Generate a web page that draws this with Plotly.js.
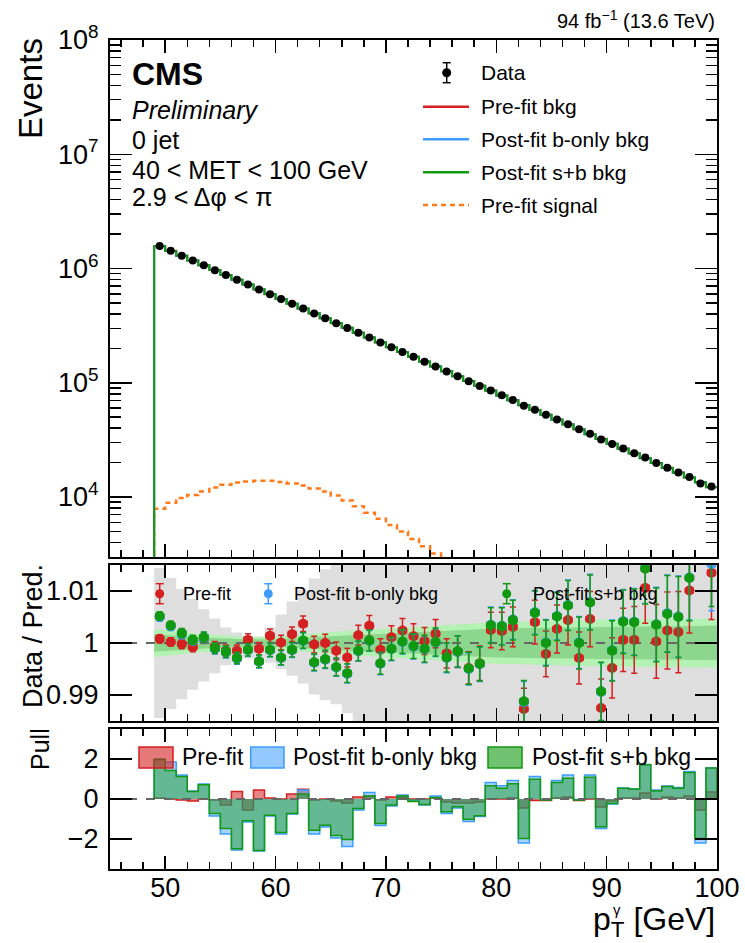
<!DOCTYPE html>
<html><head><meta charset="utf-8">
<script src="https://cdn.plot.ly/plotly-3.0.1.min.js"></script>
<style>html,body{margin:0;padding:0;background:#fff}#chart{width:745px;height:943px}</style>
</head><body><div id="chart"></div>
<script>
// ---------------- data ----------------
const binLo = [49,50,51,52,53,54,55,56,57,58,59,60,61,62,63,64,65,66,67,68,69,70,71,72,73,74,75,76,77,78,79,80,81,82,83,84,85,86,87,88,89,90,91,92,93,94,95,96,97,98,99];
const binHi = 100;

const bkgPre = [1574000,1428300,1296000,1176000,1067100,968300,878600,797300,723500,656500,595700,540500,490500,445100,403900,366500,332500,301700,273800,248500,225500,204600,185600,168500,152900,138700,125900,114200,103600,94050,85340,77440,70270,63760,57860,52500,47640,43230,39230,35590,32300,29310,26590,24130,21900,19870,18030,16360,14840,13470,12220];

const signalPre = [7900,8900,9800,10400,11200,12100,12800,13400,13700,13850,13850,13550,13150,12600,11850,11200,10300,9300,8300,7300,6450,5700,5000,4300,3700,3200,2700,2250,1850,1500,1200,950,750,590,460,360,280,220,170,130,100,78,60,46,35,27,21,16,12,9,7];

const ratioPre = [1.0008,1.0002,0.9998,0.9992,1.0009,0.9993,0.9985,0.9985,1.0006,0.9989,1.0014,1.0001,1.0017,1.0037,0.9997,1.0000,0.9985,0.9972,1.0015,1.0033,0.9987,1.0011,1.0024,1.0013,1.0004,1.0018,0.9980,0.9983,0.9952,0.9961,1.0025,1.0023,1.0031,0.9873,1.0040,0.9979,1.0027,1.0044,0.9971,1.0046,0.9875,0.9952,1.0006,1.0006,1.0106,1.0003,1.0024,1.0021,1.0101,0.9750,1.0135];

const ratioBonly = [1.0050,1.0032,1.0017,1.0005,1.0010,0.9989,0.9982,0.9970,0.9986,0.9964,0.9986,0.9971,0.9986,1.0004,0.9962,0.9968,0.9953,0.9941,0.9984,1.0004,0.9960,0.9988,1.0002,0.9993,0.9988,1.0001,0.9971,0.9983,0.9950,0.9959,1.0035,1.0033,1.0045,0.9886,1.0059,1.0001,1.0052,1.0073,1.0001,1.0079,0.9906,0.9986,1.0042,1.0041,1.0144,1.0036,1.0057,1.0051,1.0126,0.9759,1.0152];

const ratioSB = [1.0052,1.0034,1.0019,1.0006,1.0011,0.9990,0.9983,0.9971,0.9987,0.9965,0.9987,0.9972,0.9987,1.0005,0.9963,0.9969,0.9954,0.9942,0.9985,1.0005,0.9961,0.9989,1.0003,0.9994,0.9989,1.0002,0.9972,0.9984,0.9951,0.9960,1.0034,1.0032,1.0044,0.9888,1.0058,1.0000,1.0051,1.0072,1.0000,1.0078,0.9907,0.9985,1.0041,1.0040,1.0143,1.0035,1.0056,1.0050,1.0125,0.9760,1.0160];

const ratioErr = [0.0008,0.0008,0.0009,0.0009,0.0010,0.0010,0.0011,0.0011,0.0012,0.0012,0.0013,0.0014,0.0014,0.0015,0.0016,0.0017,0.0017,0.0018,0.0019,0.0020,0.0021,0.0022,0.0023,0.0024,0.0026,0.0027,0.0028,0.0030,0.0031,0.0033,0.0034,0.0036,0.0038,0.0040,0.0042,0.0044,0.0046,0.0048,0.0050,0.0053,0.0056,0.0058,0.0061,0.0064,0.0068,0.0071,0.0074,0.0078,0.0082,0.0086,0.0090];

// grey band (pre-fit uncertainty), half widths above / below 1 per bin
const bandUp = [0.0144,0.0125,0.0104,0.0085,0.0065,0.0047,0.0030,0.0020,0.0014,0.0012,0.0030,0.0055,0.0080,0.0102,0.0124,0.0142,0.02,0.02,0.02,0.02,0.02,0.02,0.02,0.02,0.02,0.02,0.02,0.02,0.02,0.02,0.02,0.02,0.02,0.02,0.02,0.02,0.02,0.02,0.02,0.02,0.02,0.02,0.02,0.02,0.02,0.02,0.02,0.02,0.02,0.02,0.02];
const bandDn = [0.0144,0.0127,0.0108,0.0090,0.0074,0.0058,0.0043,0.0033,0.0030,0.0030,0.0038,0.0050,0.0063,0.0078,0.0099,0.0110,0.0118,0.0135,0.02,0.02,0.02,0.02,0.02,0.02,0.02,0.02,0.02,0.02,0.02,0.02,0.02,0.02,0.02,0.02,0.02,0.02,0.02,0.02,0.02,0.02,0.02,0.02,0.02,0.02,0.02,0.02,0.02,0.02,0.02,0.02,0.02];

// green post-fit uncertainty bands
const fitBandX = [49,53,57,60,65,70,75,80,90,100];
const fitBand2 = [0.0027,0.0018,0.0012,0.0012,0.0021,0.0027,0.0034,0.0040,0.0045,0.0047];
const fitBand1 = [0.0017,0.0011,0.0007,0.0007,0.0013,0.0018,0.0023,0.0028,0.0031,0.0033];

const pullPre = [0.05,0.00,-0.05,-0.10,0.00,-0.05,-0.30,0.37,-0.55,0.45,0.05,0.00,0.25,0.49,-0.05,0.00,-0.10,-0.20,0.10,0.15,-0.05,0.10,0.10,0.00,0.00,0.05,-0.15,-0.20,-0.20,-0.15,0.00,0.00,0.05,-0.45,-0.08,-0.08,0.05,0.10,-0.08,0.00,-0.40,-0.10,0.05,0.05,0.30,0.00,0.10,0.05,0.15,-0.55,0.35];
const pullBonly = [2.00,1.85,1.20,0.40,0.75,-0.85,-1.75,-2.55,-1.15,-2.60,-0.85,-1.75,-0.75,0.45,-1.75,-1.40,-1.95,-2.37,-0.55,0.32,-1.33,-0.35,0.20,-0.10,-0.30,0.15,-0.72,-0.45,-1.12,-0.88,0.83,0.66,0.92,-2.20,1.13,-0.02,0.92,1.20,-0.02,1.20,-1.48,-0.25,0.55,0.50,1.72,0.45,0.65,0.58,1.38,-2.20,1.55];
const pullSB = [1.97,1.43,1.13,0.37,0.71,-0.72,-1.48,-2.49,-1.09,-2.57,-0.81,-1.68,-0.72,0.25,-1.56,-1.31,-1.82,-2.02,-0.47,0.15,-1.23,-0.30,0.15,-0.13,-0.27,0.08,-0.64,-0.39,-1.01,-0.84,0.66,0.54,0.76,-1.98,0.99,-0.05,0.82,1.04,-0.05,1.09,-1.39,-0.22,0.54,0.50,1.71,0.40,0.62,0.54,1.33,-1.98,1.55];

const yTickVals = [1e4,1e5,1e6,1e7,1e8];
const yTickText = ['10<sup>4</sup>','10<sup>5</sup>','10<sup>6</sup>','10<sup>7</sup>','10<sup>8</sup>'];

// ---------------- derived ----------------
const centers = binLo.map(v => v + 0.5);
const data = bkgPre.map((b,i) => b * ratioPre[i]);
const dataErr = data.map((d,i) => d * ratioErr[i]);
const bkgBonly = data.map((d,i) => d / ratioBonly[i]);
const bkgSB = data.map((d,i) => d / ratioSB[i]);

function stepFromBase(vals, base){
  return {x:[binLo[0]].concat(binLo).concat([binHi, binHi]),
          y:[base].concat(vals).concat([vals[vals.length-1], base])};
}
function stepPlain(vals){
  return {x:binLo.concat([binHi]), y:vals.concat([vals[vals.length-1]])};
}

const RED='#d42020', BLUE='#3d9cff', GREEN='#119911', ORANGE='#ff7a1a';
const FONT='"Liberation Sans", Arial, Helvetica, sans-serif';

// ---------------- geometry helpers (pixels -> paper) ----------------
const L=110, R=717, T=40, B=869;
const px = v => (v-L)/(R-L);
const py = v => (B-v)/(B-T);
const dom = (top,bot) => [py(bot), py(top)];

const traces = [];
// ---- top panel
const sigS = stepFromBase(signalPre, 100);
traces.push({x:sigS.x.slice(0,-1), y:sigS.y.slice(0,-1), type:'scatter', mode:'lines', line:{shape:'hv', color:ORANGE, width:2.5, dash:'5px,4px'}, xaxis:'x', yaxis:'y', hoverinfo:'skip'});
[[bkgPre,RED],[bkgBonly,BLUE],[bkgSB,GREEN]].forEach(([v,c])=>{
  const s = stepFromBase(v, 100);
  traces.push({x:s.x.slice(0,-1), y:s.y.slice(0,-1), type:'scatter', mode:'lines', line:{shape:'hv', color:c, width:2}, xaxis:'x', yaxis:'y', hoverinfo:'skip'});
});
traces.push({x:centers, y:data, type:'scatter', mode:'markers', marker:{color:'#000', size:8}, error_y:{type:'data', array:dataErr, color:'#000', thickness:1.5, width:2}, xaxis:'x', yaxis:'y', hoverinfo:'skip'});

// ---- ratio panel
const lowS = stepPlain(bandDn.map(v=>1-v)), upS = stepPlain(bandUp.map(v=>1+v));
traces.push({x:lowS.x, y:lowS.y, type:'scatter', mode:'lines', line:{shape:'hv', width:0, color:'rgba(0,0,0,0)'}, xaxis:'x2', yaxis:'y2', hoverinfo:'skip'});
traces.push({x:upS.x, y:upS.y, type:'scatter', mode:'lines', line:{shape:'hv', width:0, color:'rgba(0,0,0,0)'}, fill:'tonexty', fillcolor:'#dedede', xaxis:'x2', yaxis:'y2', hoverinfo:'skip'});
[[fitBand2,'#b3f2b3'],[fitBand1,'#8dd68d']].forEach(([h,c])=>{
  traces.push({x:fitBandX, y:h.map(v=>1-v), type:'scatter', mode:'lines', line:{width:0, color:'rgba(0,0,0,0)'}, xaxis:'x2', yaxis:'y2', hoverinfo:'skip'});
  traces.push({x:fitBandX, y:h.map(v=>1+v), type:'scatter', mode:'lines', line:{width:0, color:'rgba(0,0,0,0)'}, fill:'tonexty', fillcolor:c, xaxis:'x2', yaxis:'y2', hoverinfo:'skip'});
});
traces.push({x:[45,100], y:[1,1], type:'scatter', mode:'lines', line:{color:'#666', width:2, dash:'dash'}, xaxis:'x2', yaxis:'y2', hoverinfo:'skip'});
[[ratioPre,RED],[ratioBonly,BLUE],[ratioSB,GREEN]].forEach(([v,c])=>{
  traces.push({x:centers, y:v, type:'scatter', mode:'markers', marker:{color:c, size:10},
    error_y:{type:'data', array:ratioErr, color:c, thickness:1.5, width:3},
    error_x:{type:'constant', value:0.35, color:c, thickness:1.5, width:3},
    xaxis:'x2', yaxis:'y2', hoverinfo:'skip'});
});

// ---- pull panel
[[pullPre,RED,'rgba(212,32,32,0.55)'],[pullBonly,BLUE,'rgba(61,156,255,0.45)'],[pullSB,GREEN,'rgba(17,153,17,0.45)']].forEach(([v,c,f])=>{
  const s = stepFromBase(v, 0);
  traces.push({x:s.x, y:s.y, type:'scatter', mode:'lines', line:{shape:'hv', color:c, width:1.5}, fill:'tozeroy', fillcolor:f, xaxis:'x3', yaxis:'y3', hoverinfo:'skip'});
});
traces.push({x:[45,100], y:[0,0], type:'scatter', mode:'lines', line:{color:'#666', width:2, dash:'dash'}, xaxis:'x3', yaxis:'y3', hoverinfo:'skip'});

// ---------------- axes ----------------
const xBase = {range:[45,100], ticks:'inside', ticklen:13, tickwidth:1.5, tickcolor:'#000', tick0:50, dtick:10,
  showline:true, linewidth:2, linecolor:'#000', mirror:'allticks', showgrid:false, zeroline:false, fixedrange:true,
  minor:{ticks:'inside', ticklen:7, tickwidth:1.5, tickcolor:'#000', tick0:50, dtick:2, showgrid:false},
  tickfont:{family:FONT, size:27, color:'#000'}};
const yBase = {ticks:'inside', ticklen:22, tickwidth:1.5, tickcolor:'#000', showline:true, linewidth:2, linecolor:'#000',
  mirror:'allticks', showgrid:false, zeroline:false, fixedrange:true, tickmode:'array',
  tickfont:{family:FONT, size:27, color:'#000'}, ticklabelstandoff:4};

const minorLog = [];
for (let d=3; d<8; d++) for (let m=2; m<10; m++) minorLog.push(m*Math.pow(10,d));

const layout = {
  width:745, height:943, margin:{l:L, r:745-R, t:T, b:943-B}, paper_bgcolor:'#fff', plot_bgcolor:'#fff',
  showlegend:false, font:{family:FONT, color:'#000'},
  xaxis:Object.assign({}, xBase, {anchor:'y', showticklabels:false}),
  xaxis2:Object.assign({}, xBase, {anchor:'y2', showticklabels:false, matches:'x'}),
  xaxis3:Object.assign({}, xBase, {anchor:'y3', showticklabels:true, matches:'x', ticklabelstandoff:-6}),
  yaxis:Object.assign({}, yBase, {type:'log', domain:dom(40,557), range:[Math.log10(2985), 8], tickvals:yTickVals, ticktext:yTickText,
    minor:{ticks:'inside', ticklen:11, tickwidth:1.5, tickcolor:'#000', tickmode:'array', tickvals:minorLog, showgrid:false}}),
  yaxis2:Object.assign({}, yBase, {domain:dom(565,721), range:[0.985,1.015], tickvals:[0.99,1,1.01], ticktext:['0.99','1','1.01']}),
  yaxis3:Object.assign({}, yBase, {domain:dom(729,869), range:[-3.5,3.5], tickvals:[-2,0,2], ticktext:['\u22122','0','2']}),
  annotations:[], shapes:[]
};

function ann(text,x,y,size,o){ layout.annotations.push(Object.assign({xref:'paper', yref:'paper', x:px(x), y:py(y), text:text, showarrow:false,
  font:{family:FONT, size:size, color:'#000'}, xanchor:'left', yanchor:'middle'}, o||{})); }
function seg(x0,y0,x1,y1,c,w,dash){ layout.shapes.push({type:'line', xref:'paper', yref:'paper', x0:px(x0), y0:py(y0), x1:px(x1), y1:py(y1), line:{color:c, width:w, dash:dash||'solid'}}); }
function dot(cx,cy,r,c){ layout.shapes.push({type:'circle', xref:'paper', yref:'paper', xsizemode:'pixel', ysizemode:'pixel', xanchor:px(cx), yanchor:py(cy), x0:-r, x1:r, y0:-r, y1:r, fillcolor:c, line:{width:0}}); }
function box(x0,y0,x1,y1,fill,c){ layout.shapes.push({type:'rect', xref:'paper', yref:'paper', x0:px(x0), y0:py(y0), x1:px(x1), y1:py(y1), fillcolor:fill, line:{color:c, width:1.5}}); }
function errMarker(cx,cy,c,half){ seg(cx,cy-half,cx,cy+half,c,1.5); seg(cx-4,cy-half,cx+4,cy-half,c,1.5); seg(cx-4,cy+half,cx+4,cy+half,c,1.5); dot(cx,cy,4.5,c); }

// header + CMS labels
ann('94 fb<sup>\u22121</sup> (13.6 TeV)', 717, 20, 20, {xanchor:'right'});
ann('<b>CMS</b>', 130, 74, 32);
ann('<i>Preliminary</i>', 130, 110, 25);
ann('0 jet', 130, 140, 25);
ann('40 &lt; MET &lt; 100 GeV', 130, 170, 25);
ann('2.9 &lt; \u0394\u03c6 &lt; \u03c0', 130, 197, 25);

// top legend
errMarker(446.7, 72.7, '#000', 10);
ann('Data', 479, 72, 21);
seg(423,106.7,469,106.7,RED,2.5); ann('Pre-fit bkg', 479, 106.7, 21);
seg(423,139.3,469,139.3,BLUE,2.5); ann('Post-fit b-only bkg', 479, 139.3, 21);
seg(423,172.3,469,172.3,GREEN,2.5); ann('Post-fit s+b bkg', 479, 172.3, 21);
seg(423,205,469,205,ORANGE,2.5,'5px,4px'); ann('Pre-fit signal', 479, 205, 21);

// ratio legend
errMarker(159.7, 593.7, RED, 10); ann('Pre-fit', 180.7, 593.7, 18);
errMarker(268.3, 593.7, BLUE, 10); ann('Post-fit b-only bkg', 291.7, 593.7, 18);
errMarker(506.7, 593.7, GREEN, 10); ann('Post-fit s+b bkg', 531, 593.7, 18);

// pull legend
box(139,747,173,768,'rgba(212,32,32,0.6)',RED); ann('Pre-fit', 180, 757, 23);
box(250.7,747,284,768,'rgba(61,156,255,0.55)',BLUE); ann('Post-fit b-only bkg', 291, 757, 23);
box(488,747,522,768,'rgba(17,153,17,0.6)',GREEN); ann('Post-fit s+b bkg', 530, 757, 23);

// axis titles
ann('Events', 30, 89, 33, {xanchor:'center', textangle:-90});
ann('Data / Pred.', 33, 636, 27, {xanchor:'center', textangle:-90});
ann('Pull', 40, 749, 25, {xanchor:'center', textangle:-90});
ann('p<sub>T</sub> [GeV]', 717, 921, 32, {xanchor:'right'});
ann('\u03b3', 617, 909, 15, {xanchor:'center'});

Plotly.newPlot('chart', traces, layout, {staticPlot:true, displayModeBar:false});
</script></body></html>
